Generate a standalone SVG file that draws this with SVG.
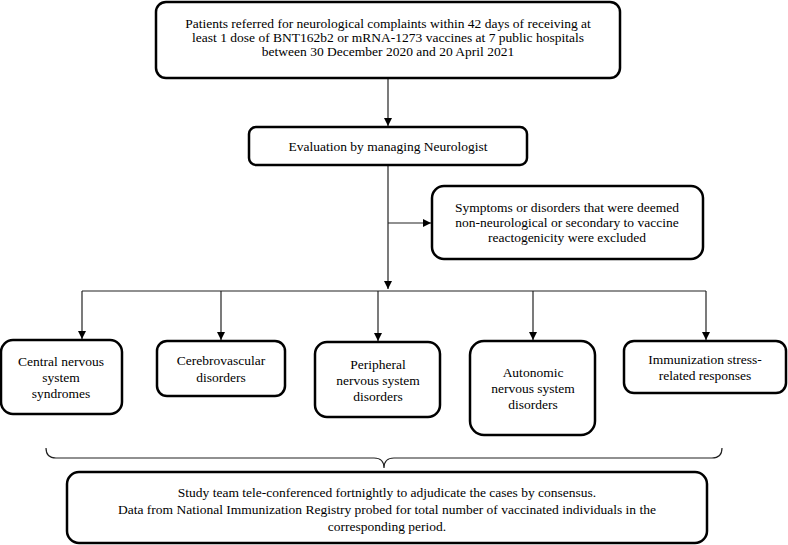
<svg xmlns="http://www.w3.org/2000/svg" width="788" height="545" viewBox="0 0 788 545">
<defs>
<marker id="ah" viewBox="0 0 10 10" refX="10" refY="5" markerWidth="8" markerHeight="8" markerUnits="userSpaceOnUse" orient="auto">
<path d="M0,0 L10,5 L0,10 z" fill="#000"/>
</marker>
<style>
.box{fill:#fff;stroke:#000;stroke-width:2.5}
.t{font-family:"Liberation Serif","Times New Roman",serif;font-size:13.5px;fill:#000;text-anchor:middle}
.c{fill:none;stroke:#222;stroke-width:1.2}
</style>
</defs>
<rect width="788" height="545" fill="#fff"/>
<g id="connectors">
<line class="c" x1="388" y1="78" x2="388" y2="126" marker-end="url(#ah)"/>
<line class="c" x1="388" y1="165" x2="388" y2="289" marker-end="url(#ah)"/>
<line class="c" x1="388" y1="223" x2="431" y2="223" marker-end="url(#ah)"/>
<line class="c" x1="82" y1="291" x2="706" y2="291"/>
<line class="c" x1="82" y1="291" x2="82" y2="339" marker-end="url(#ah)"/>
<line class="c" x1="221" y1="291" x2="221" y2="340" marker-end="url(#ah)"/>
<line class="c" x1="378" y1="291" x2="378" y2="341" marker-end="url(#ah)"/>
<line class="c" x1="533" y1="291" x2="533" y2="340" marker-end="url(#ah)"/>
<line class="c" x1="706" y1="291" x2="706" y2="340" marker-end="url(#ah)"/>
<path class="c" d="M46,448 Q46,458 56,458 L374,458 Q384,458 384,468 Q384,458 394,458 L712,458 Q722,458 722,448"/>
</g>
<g id="n_top">
<rect class="box" x="156" y="2" width="464" height="76" rx="10"/>
<text class="t" x="388" y="28">Patients referred for neurological complaints within 42 days of receiving at</text>
<text class="t" x="388" y="42">least 1 dose of BNT162b2 or mRNA-1273 vaccines at 7 public hospitals</text>
<text class="t" x="388" y="56">between 30 December 2020 and 20 April 2021</text>
</g>
<g id="n_eval">
<rect class="box" x="249" y="127" width="278" height="38" rx="7"/>
<text class="t" x="388" y="151">Evaluation by managing Neurologist</text>
</g>
<g id="n_excl">
<rect class="box" x="432" y="186" width="271" height="73" rx="12"/>
<text class="t" x="567" y="212">Symptoms or disorders that were deemed</text>
<text class="t" x="567" y="227">non-neurological or secondary to vaccine</text>
<text class="t" x="567" y="242">reactogenicity were excluded</text>
</g>
<g id="n_cns">
<rect class="box" x="1" y="340" width="121" height="74" rx="12"/>
<text class="t" x="61" y="366">Central nervous</text>
<text class="t" x="61" y="382">system</text>
<text class="t" x="61" y="398">syndromes</text>
</g>
<g id="n_cv">
<rect class="box" x="157" y="341" width="128" height="55" rx="10"/>
<text class="t" x="221" y="365">Cerebrovascular</text>
<text class="t" x="221" y="382">disorders</text>
</g>
<g id="n_pns">
<rect class="box" x="315" y="342" width="125" height="75" rx="12"/>
<text class="t" x="378" y="369">Peripheral</text>
<text class="t" x="378" y="385">nervous system</text>
<text class="t" x="378" y="401">disorders</text>
</g>
<g id="n_ans">
<rect class="box" x="470" y="341" width="125" height="94" rx="14"/>
<text class="t" x="533" y="377">Autonomic</text>
<text class="t" x="533" y="393">nervous system</text>
<text class="t" x="533" y="409">disorders</text>
</g>
<g id="n_isrr">
<rect class="box" x="624" y="341" width="162" height="52" rx="10"/>
<text class="t" x="705" y="364">Immunization stress-</text>
<text class="t" x="705" y="380">related responses</text>
</g>
<g id="n_bottom">
<rect class="box" x="67" y="472" width="640" height="71" rx="12"/>
<text class="t" x="387" y="497">Study team tele-conferenced fortnightly to adjudicate the cases by consensus.</text>
<text class="t" x="387" y="514">Data from National Immunization Registry probed for total number of vaccinated individuals in the</text>
<text class="t" x="387" y="531">corresponding period.</text>
</g>
</svg>
